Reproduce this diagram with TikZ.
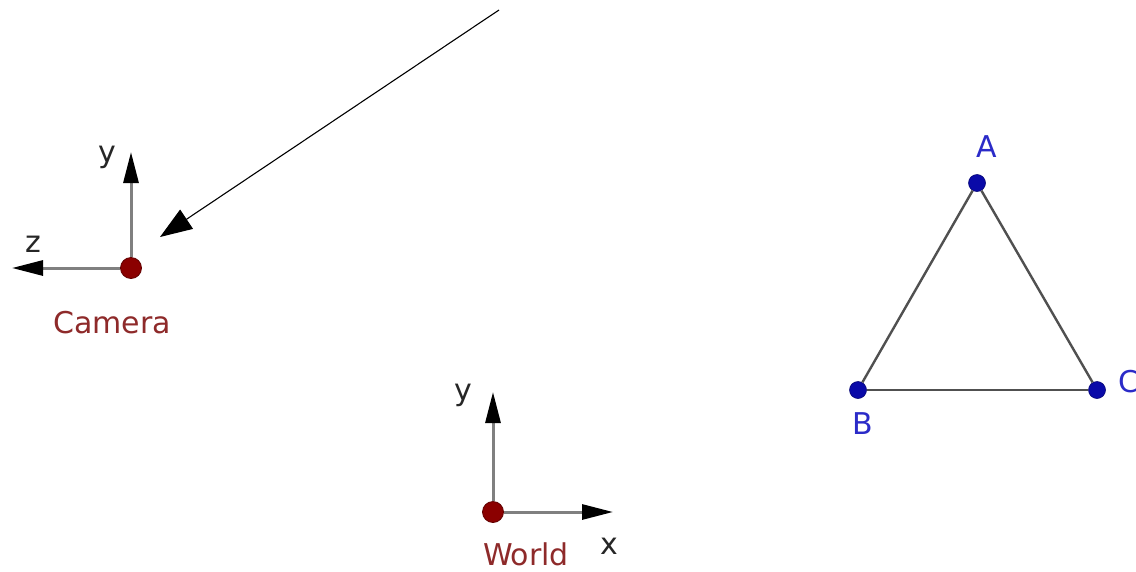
\documentclass[tikz,border=0pt]{standalone}
\usepackage{fontspec}
\setmainfont{DejaVu Sans}
\usetikzlibrary{arrows.meta,positioning}
\definecolor{ptred}{HTML}{8B0000}
\definecolor{lblred}{HTML}{8E2A2A}
\definecolor{ptblue}{HTML}{0A0AA8}
\definecolor{lblblue}{HTML}{2B2BC8}
\definecolor{axgray}{HTML}{808080}
\definecolor{edgegray}{HTML}{505050}

\begin{document}
\begin{tikzpicture}[
  x=1pt,y=-1pt,
  font=\fontsize{30}{35}\selectfont,
  axis/.style={line width=3pt,draw=axgray,-{Triangle[length=31pt,width=15pt,color=black]}},
  pointer/.style={line width=1.1pt,-{Triangle[length=32pt,width=23pt]}},
  origin/.style={circle,fill=ptred,draw=ptred!70!black,line width=0.8pt,minimum size=21pt,inner sep=0pt},
  vertex/.style={circle,fill=ptblue,draw=ptblue!70!black,line width=0.6pt,minimum size=17pt,inner sep=0pt},
  edge/.style={line width=2.4pt,draw=edgegray},
  redtxt/.style={text=lblred,inner sep=0pt},
  bluetxt/.style={text=lblblue,inner sep=0pt},
  axtxt/.style={text=black!85,inner sep=0pt},
]
\useasboundingbox (0,0) rectangle (1136,571);
\clip (0,0) rectangle (1136,571);

\node[origin] (cam) at (131,268) {};
\coordinate (camy) at (131,152);
\coordinate (camz) at (12,268);
\node[redtxt] (camlbl) at (112,323) {Camera};
\node[axtxt] (camylbl) at (107,157) {y};
\node[axtxt] (camzlbl) at (33,244) {z};

\node[origin] (world) at (493,512) {};
\coordinate (worldy) at (493,392);
\coordinate (worldx) at (613,512);
\node[redtxt] (worldlbl) at (526,554) {World};
\node[axtxt] (worldylbl) at (463,395) {y};
\node[axtxt] (worldxlbl) at (609,546) {x};

\node[vertex] (A) at (977,183) {};
\node[vertex] (B) at (858,390) {};
\node[vertex] (C) at (1097,390) {};
\node[bluetxt] (Albl) at (987,147) {A};
\node[bluetxt] (Blbl) at (863,424) {B};
\node[bluetxt,anchor=west] (Clbl) at (1118,382) {C};

\coordinate (ptrtail) at (499,10);
\coordinate (ptrhead) at (160,237);

\draw[axis] (cam) -- (camy);
\draw[axis] (cam) -- (camz);
\draw[axis] (world) -- (worldy);
\draw[axis] (world) -- (worldx);
\draw[edge] (A) -- (B);
\draw[edge] (B) -- (C);
\draw[edge] (C) -- (A);
\draw[pointer] (ptrtail) -- (ptrhead);
\end{tikzpicture}
\end{document}
